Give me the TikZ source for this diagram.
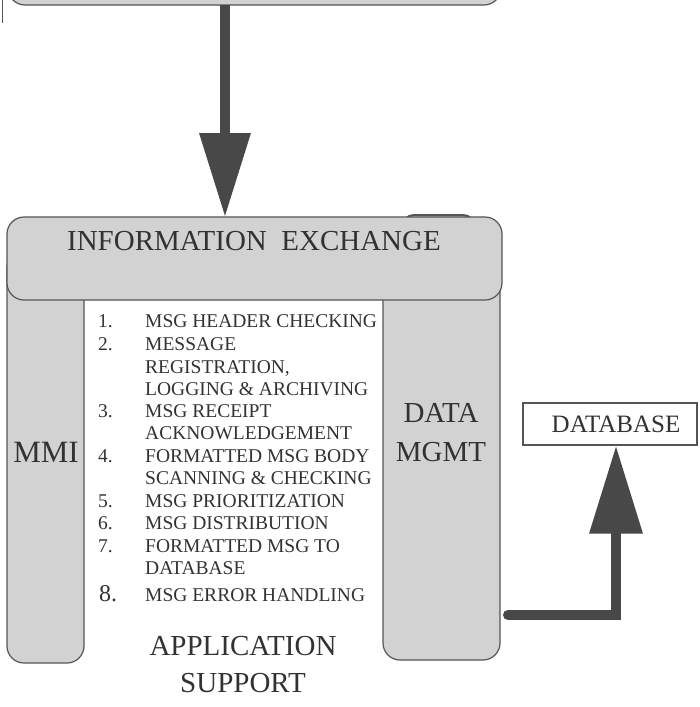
\documentclass[tikz,border=0pt]{standalone}
\usepackage{fontspec}
\setmainfont{Liberation Serif}
\usetikzlibrary{arrows.meta}
\definecolor{panel}{RGB}{210,210,210}
\definecolor{edge}{RGB}{85,85,85}
\definecolor{ink}{RGB}{50,50,50}
\definecolor{pipe}{RGB}{72,72,72}
\tikzset{
  panelbox/.style={fill=panel, draw=edge, line width=1.2pt, rounded corners=17pt},
  bigtext/.style={text=ink, inner sep=0pt, font=\fontsize{29}{35}\selectfont},
  itemtext/.style={text=ink, inner sep=0pt, anchor=base west, font=\fontsize{19.5}{22}\selectfont},
  flow/.style={draw=pipe, line width=10pt},
}
\begin{document}
\begin{tikzpicture}[x=1pt,y=-1pt]
\useasboundingbox (0,0) rectangle (700,707);
\clip (0,0) rectangle (700,707);

% upper block, mostly above the frame
\draw[panelbox] (8,-60) rectangle (501,5);
\coordinate (upbot) at (225,5);
\draw[edge, line width=1pt] (2,0) -- (2,23);

% side columns, their tops hidden by the exchange bar
\draw[panelbox, rounded corners=12pt, line width=2pt] (402,215) rectangle (475,260);
\draw[panelbox] (383,250) rectangle (500,660);
\draw[panelbox] (7,250) rectangle (84,663);

% exchange bar
\draw[panelbox] (7,217) rectangle (502,300);
\coordinate (ietop) at (225,217);

% labels of the blocks
\node[bigtext, anchor=base] (ie) at (254,250) {INFORMATION\ \ EXCHANGE};
\node[bigtext, anchor=base, font=\fontsize{31}{35}\selectfont] (mmi) at (46,462) {MMI};
\node[bigtext, anchor=base] (dm1) at (441,422) {DATA};
\node[bigtext, anchor=base] (dm2) at (441,461) {MGMT};
\node[bigtext, anchor=base] (as1) at (243,655) {APPLICATION};
\node[bigtext, anchor=base] (as2) at (243,692) {SUPPORT};

% database box
\node[draw=edge, line width=1.2pt, fill=white, minimum width=174pt, minimum height=42pt,
      inner sep=0pt] (db) at (610,424) {};
\node[bigtext, anchor=base, font=\fontsize{25}{30}\selectfont] (dbt) at (616,432) {DATABASE};

% numbered function list
\foreach \y/\n [count=\i] in {327/1., 350/2., 417/3., 462/4., 507/5., 529/6., 552/7.}
  \node[itemtext] (num\i) at (98,\y) {\n};
\node[itemtext, font=\fontsize{24}{26}\selectfont] (num8) at (99,601) {8.};
\foreach \y/\t [count=\i] in {
    327/MSG HEADER CHECKING,
    350/MESSAGE,
    373/{REGISTRATION,},
    395/LOGGING \& ARCHIVING,
    417/MSG RECEIPT,
    439/ACKNOWLEDGEMENT,
    462/FORMATTED MSG BODY,
    484/SCANNING \& CHECKING,
    507/MSG PRIORITIZATION,
    529/MSG DISTRIBUTION,
    552/FORMATTED MSG TO,
    574/DATABASE,
    601/MSG ERROR HANDLING}
  \node[itemtext] (line\i) at (145,\y) {\t};

% flow into the exchange bar
\draw[flow, -{Triangle[length=84pt,width=49pt]}] (upbot) -- (ietop);

% flow from data management to the database
\coordinate (dmout) at (508,615);
\draw[flow, line cap=round, line join=miter, -{Triangle[length=88pt,width=51pt]}]
  (dmout) -- (616,615) -- (db.south -| 616,0);
\end{tikzpicture}
\end{document}
